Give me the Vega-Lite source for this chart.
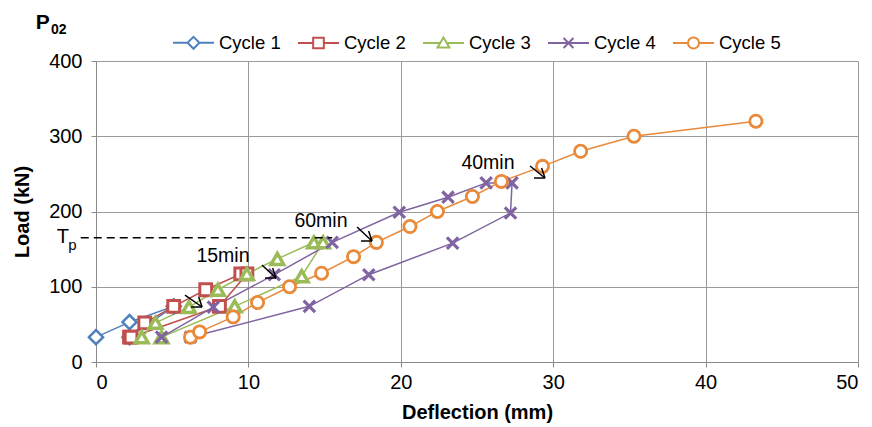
{
  "$schema": "https://vega.github.io/schema/vega-lite/v6.json",
  "width": 762,
  "height": 301,
  "autosize": {"type": "none"},
  "padding": {"left": 96, "top": 61, "right": 14, "bottom": 65},
  "background": "white",
  "config": {
    "font": "Liberation Sans",
    "view": {"stroke": null},
    "axis": {
      "grid": true,
      "gridColor": "#9a9a9a",
      "gridWidth": 1,
      "domainColor": "#8a8a8a",
      "tickColor": "#8a8a8a",
      "tickSize": 5,
      "labelFontSize": 20,
      "labelColor": "#000000",
      "titleFontSize": 20,
      "titleFontWeight": "bold",
      "titleColor": "#000000"
    },
    "legend": {
      "title": null,
      "orient": "none",
      "legendX": 76,
      "legendY": -40,
      "direction": "horizontal",
      "symbolSize": 1681,
      "labelFontSize": 18.5,
      "labelOffset": 4,
      "columnPadding": 13,
      "padding": 0,
      "symbolStrokeWidth": 2,
      "symbolFillColor": "white",
      "labelColor": "black"
    }
  },
  "datasets": {
    "pts": [
      {"c": "Cycle 1", "i": 0, "x": 0, "y": 33},
      {"c": "Cycle 1", "i": 1, "x": 2.2, "y": 53},
      {"c": "Cycle 1", "i": 2, "x": 5.1, "y": 74},
      {"c": "Cycle 1", "i": 3, "x": 2.2, "y": 33},
      {"c": "Cycle 2", "i": 0, "x": 2.2, "y": 33},
      {"c": "Cycle 2", "i": 1, "x": 3.2, "y": 52},
      {"c": "Cycle 2", "i": 2, "x": 5.1, "y": 74},
      {"c": "Cycle 2", "i": 3, "x": 7.2, "y": 96},
      {"c": "Cycle 2", "i": 4, "x": 9.5, "y": 117},
      {"c": "Cycle 2", "i": 5, "x": 9.9, "y": 117},
      {"c": "Cycle 2", "i": 6, "x": 8.1, "y": 74},
      {"c": "Cycle 2", "i": 7, "x": 2.3, "y": 33},
      {"c": "Cycle 3", "i": 0, "x": 3.0, "y": 33},
      {"c": "Cycle 3", "i": 1, "x": 3.9, "y": 52},
      {"c": "Cycle 3", "i": 2, "x": 6.1, "y": 73},
      {"c": "Cycle 3", "i": 3, "x": 8.0, "y": 96},
      {"c": "Cycle 3", "i": 4, "x": 9.9, "y": 117},
      {"c": "Cycle 3", "i": 5, "x": 11.9, "y": 137},
      {"c": "Cycle 3", "i": 6, "x": 14.3, "y": 159},
      {"c": "Cycle 3", "i": 7, "x": 14.9, "y": 159},
      {"c": "Cycle 3", "i": 8, "x": 13.5, "y": 114},
      {"c": "Cycle 3", "i": 9, "x": 9.1, "y": 74},
      {"c": "Cycle 3", "i": 10, "x": 4.3, "y": 33},
      {"c": "Cycle 4", "i": 0, "x": 4.3, "y": 33},
      {"c": "Cycle 4", "i": 1, "x": 7.7, "y": 73},
      {"c": "Cycle 4", "i": 2, "x": 11.7, "y": 116},
      {"c": "Cycle 4", "i": 3, "x": 15.5, "y": 159},
      {"c": "Cycle 4", "i": 4, "x": 19.9, "y": 199},
      {"c": "Cycle 4", "i": 5, "x": 23.1, "y": 219},
      {"c": "Cycle 4", "i": 6, "x": 25.6, "y": 238},
      {"c": "Cycle 4", "i": 7, "x": 27.3, "y": 238},
      {"c": "Cycle 4", "i": 8, "x": 27.2, "y": 198},
      {"c": "Cycle 4", "i": 9, "x": 23.4, "y": 158},
      {"c": "Cycle 4", "i": 10, "x": 17.9, "y": 116},
      {"c": "Cycle 4", "i": 11, "x": 14.0, "y": 74},
      {"c": "Cycle 4", "i": 12, "x": 6.2, "y": 33},
      {"c": "Cycle 5", "i": 0, "x": 6.2, "y": 33},
      {"c": "Cycle 5", "i": 1, "x": 6.8, "y": 40},
      {"c": "Cycle 5", "i": 2, "x": 9.0, "y": 60},
      {"c": "Cycle 5", "i": 3, "x": 10.6, "y": 79},
      {"c": "Cycle 5", "i": 4, "x": 12.7, "y": 100},
      {"c": "Cycle 5", "i": 5, "x": 14.8, "y": 118},
      {"c": "Cycle 5", "i": 6, "x": 16.9, "y": 140},
      {"c": "Cycle 5", "i": 7, "x": 18.4, "y": 159},
      {"c": "Cycle 5", "i": 8, "x": 20.6, "y": 180},
      {"c": "Cycle 5", "i": 9, "x": 22.4, "y": 200},
      {"c": "Cycle 5", "i": 10, "x": 24.7, "y": 220},
      {"c": "Cycle 5", "i": 11, "x": 26.6, "y": 240},
      {"c": "Cycle 5", "i": 12, "x": 29.3, "y": 260},
      {"c": "Cycle 5", "i": 13, "x": 31.8, "y": 280},
      {"c": "Cycle 5", "i": 14, "x": 35.3, "y": 300},
      {"c": "Cycle 5", "i": 15, "x": 43.3, "y": 320}
    ],
    "arrows": [
      {"x": 5.84, "y": 89.0, "x2": 6.96, "y2": 73.1},
      {"x": 6.24, "y": 73.1, "x2": 6.96, "y2": 73.1},
      {"x": 6.74, "y": 86.3, "x2": 6.96, "y2": 73.1},
      {"x": 10.89, "y": 128.9, "x2": 11.81, "y2": 111.6},
      {"x": 11.09, "y": 111.6, "x2": 11.81, "y2": 111.6},
      {"x": 11.59, "y": 124.9, "x2": 11.81, "y2": 111.6},
      {"x": 17.13, "y": 179.4, "x2": 18.11, "y2": 160.8},
      {"x": 17.39, "y": 160.8, "x2": 18.11, "y2": 160.8},
      {"x": 17.89, "y": 174.1, "x2": 18.11, "y2": 160.8},
      {"x": 28.48, "y": 260.5, "x2": 29.46, "y2": 244.5},
      {"x": 28.74, "y": 244.5, "x2": 29.46, "y2": 244.5},
      {"x": 29.24, "y": 257.8, "x2": 29.46, "y2": 244.5}
    ],
    "notes": [
      {"t": "15min", "x": 8.33, "y": 140.9},
      {"t": "60min", "x": 14.76, "y": 187.4},
      {"t": "40min", "x": 25.72, "y": 264.5}
    ]
  },
  "layer": [
    {
      "data": {"name": "pts"},
      "mark": {"type": "line", "strokeWidth": 1.5},
      "encoding": {
        "x": {
          "field": "x", "type": "quantitative",
          "scale": {"domain": [0, 50], "nice": false},
          "axis": {"values": [0, 10, 20, 30, 40, 50], "labelPadding": 5, "titlePadding": 10},
          "title": "Deflection (mm)"
        },
        "y": {
          "field": "y", "type": "quantitative",
          "scale": {"domain": [0, 400], "nice": false},
          "axis": {"values": [0, 100, 200, 300, 400], "labelPadding": 9, "titlePadding": 16},
          "title": "Load (kN)"
        },
        "stroke": {
          "field": "c", "type": "nominal",
          "scale": {
            "domain": ["Cycle 1", "Cycle 2", "Cycle 3", "Cycle 4", "Cycle 5"],
            "range": ["#4F81BD", "#C0504D", "#9BBB59", "#8064A2", "#E9893A"]
          }
        },
        "order": {"field": "i", "type": "quantitative"}
      }
    },
    {
      "data": {"name": "pts"},
      "transform": [{"filter": "datum.c === 'Cycle 1'"}],
      "mark": {"type": "point", "shape": "diamond", "size": 200, "filled": true, "fill": "white", "stroke": "#4F81BD", "strokeWidth": 2.5, "opacity": 1},
      "encoding": {"x": {"field": "x", "type": "quantitative"}, "y": {"field": "y", "type": "quantitative"}}
    },
    {
      "data": {"name": "pts"},
      "transform": [{"filter": "datum.c === 'Cycle 2'"}],
      "mark": {"type": "point", "shape": "square", "size": 140, "filled": true, "fill": "white", "stroke": "#C0504D", "strokeWidth": 3, "opacity": 1},
      "encoding": {"x": {"field": "x", "type": "quantitative"}, "y": {"field": "y", "type": "quantitative"}}
    },
    {
      "data": {"name": "pts"},
      "transform": [{"filter": "datum.c === 'Cycle 3'"}],
      "mark": {"type": "point", "shape": "triangle-up", "size": 160, "filled": true, "fill": "white", "stroke": "#9BBB59", "strokeWidth": 3.5, "opacity": 1},
      "encoding": {"x": {"field": "x", "type": "quantitative"}, "y": {"field": "y", "type": "quantitative"}}
    },
    {
      "data": {"name": "pts"},
      "transform": [{"filter": "datum.c === 'Cycle 4'"}],
      "mark": {"type": "point", "shape": "M-1,-1L1,1M1,-1L-1,1", "size": 130, "filled": false, "stroke": "#8064A2", "strokeWidth": 3.2, "opacity": 1},
      "encoding": {"x": {"field": "x", "type": "quantitative"}, "y": {"field": "y", "type": "quantitative"}}
    },
    {
      "data": {"name": "pts"},
      "transform": [{"filter": "datum.c === 'Cycle 5'"}],
      "mark": {"type": "point", "shape": "circle", "size": 150, "filled": true, "fill": "white", "stroke": "#E9893A", "strokeWidth": 2.8, "opacity": 1},
      "encoding": {"x": {"field": "x", "type": "quantitative"}, "y": {"field": "y", "type": "quantitative"}}
    },
    {
      "data": {"name": "pts"},
      "transform": [{"filter": "false"}],
      "mark": {"type": "point", "filled": true, "fill": "white", "strokeWidth": 2, "opacity": 1},
      "encoding": {
        "x": {"field": "x", "type": "quantitative"},
        "y": {"field": "y", "type": "quantitative"},
        "stroke": {"field": "c", "type": "nominal"},
        "shape": {
          "field": "c", "type": "nominal",
          "scale": {
            "domain": ["Cycle 1", "Cycle 2", "Cycle 3", "Cycle 4", "Cycle 5"],
            "range": [
              "M-1,0H-0.29M0.29,0H1M0,-0.29L0.29,0L0,0.29L-0.29,0Z",
              "M-1,0H-0.26M0.26,0H1M-0.26,-0.26H0.26V0.26H-0.26Z",
              "M-1,0H-0.2M0.2,0H1M0,-0.27L0.29,0.22H-0.29Z",
              "M-1,0H1M-0.24,-0.24L0.24,0.24M0.24,-0.24L-0.24,0.24",
              "M-1,0H-0.27M0.27,0H1M0.27,0A0.27,0.27 0 1,1 -0.27,0A0.27,0.27 0 1,1 0.27,0Z"
            ]
          }
        }
      }
    },
    {
      "data": {"values": [{"x": -1, "x2": 15.5, "y": 165}]},
      "mark": {"type": "rule", "color": "black", "strokeWidth": 1.5, "strokeDash": [8, 5]},
      "encoding": {
        "x": {"field": "x", "type": "quantitative"},
        "x2": {"field": "x2"},
        "y": {"field": "y", "type": "quantitative"}
      }
    },
    {
      "data": {"name": "arrows"},
      "mark": {"type": "rule", "color": "black", "strokeWidth": 1.5},
      "encoding": {
        "x": {"field": "x", "type": "quantitative"},
        "y": {"field": "y", "type": "quantitative"},
        "x2": {"field": "x2"},
        "y2": {"field": "y2"}
      }
    },
    {
      "data": {"name": "notes"},
      "mark": {"type": "text", "fontSize": 19.5, "color": "black", "align": "center", "baseline": "middle"},
      "encoding": {
        "x": {"field": "x", "type": "quantitative"},
        "y": {"field": "y", "type": "quantitative"},
        "text": {"field": "t"}
      }
    },
    {
      "data": {"values": [{"t": "T", "x": -2.17, "y": 166}]},
      "mark": {"type": "text", "fontSize": 20, "color": "black", "align": "center", "baseline": "middle"},
      "encoding": {
        "x": {"field": "x", "type": "quantitative"},
        "y": {"field": "y", "type": "quantitative"},
        "text": {"field": "t"}
      }
    },
    {
      "data": {"values": [{"t": "p", "x": -1.55, "y": 155}]},
      "mark": {"type": "text", "fontSize": 15, "color": "black", "align": "center", "baseline": "middle"},
      "encoding": {
        "x": {"field": "x", "type": "quantitative"},
        "y": {"field": "y", "type": "quantitative"},
        "text": {"field": "t"}
      }
    },
    {
      "data": {"values": [{"t": "P", "x": -3.5, "y": 450}]},
      "mark": {"type": "text", "fontSize": 21, "fontWeight": "bold", "color": "black", "align": "center", "baseline": "middle"},
      "encoding": {
        "x": {"field": "x", "type": "quantitative"},
        "y": {"field": "y", "type": "quantitative"},
        "text": {"field": "t"}
      }
    },
    {
      "data": {"values": [{"t": "02", "x": -2.95, "y": 441}]},
      "mark": {"type": "text", "fontSize": 14, "fontWeight": "bold", "color": "black", "align": "left", "baseline": "middle"},
      "encoding": {
        "x": {"field": "x", "type": "quantitative"},
        "y": {"field": "y", "type": "quantitative"},
        "text": {"field": "t"}
      }
    }
  ]
}
